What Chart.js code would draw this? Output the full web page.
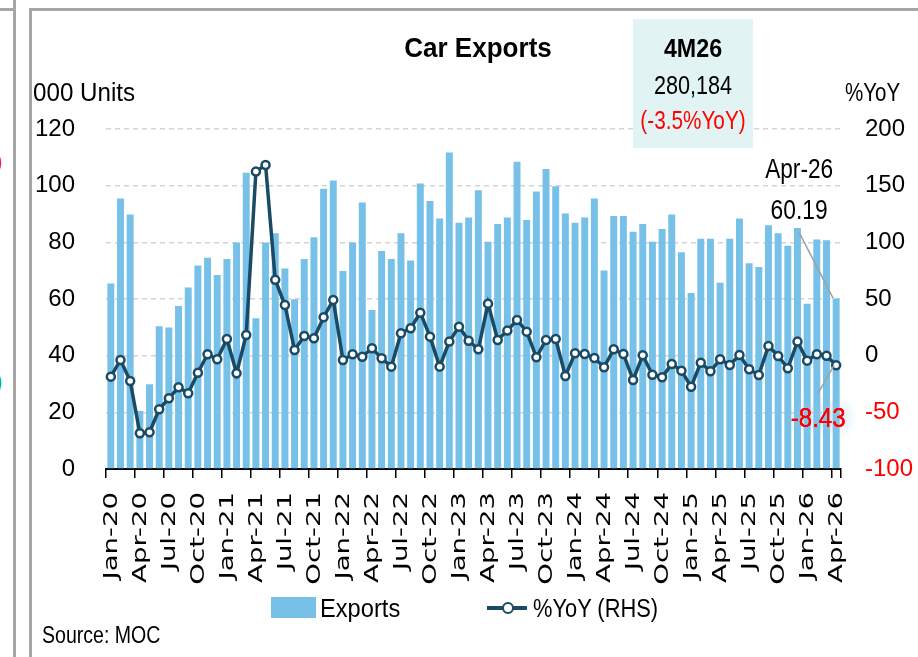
<!DOCTYPE html>
<html><head><meta charset="utf-8">
<script src="https://cdn.jsdelivr.net/npm/chart.js@4/dist/chart.umd.min.js"></script>
<style>
html,body{margin:0;padding:0;background:#fff;}
#wrap{position:relative;width:918px;height:657px;overflow:hidden;font-family:"Liberation Sans",Arial,sans-serif;color:#000;}
#chart{position:absolute;left:0;top:0;}
.t{position:absolute;white-space:nowrap;line-height:1;}
.l{transform-origin:left center;}
.c{transform-origin:center center;text-align:center;}
.ln{position:absolute;background:#A6A6A6;}
</style></head><body>
<div id="wrap">
 <div class="ln" style="left:13px;top:0;width:3px;height:657px"></div>
 <div class="ln" style="left:0;top:8px;width:16px;height:3px"></div>
 <div class="ln" style="left:29px;top:8px;width:3px;height:649px"></div>
 <div class="ln" style="left:29px;top:8px;width:889px;height:3px"></div>
 <div class="t" style="left:-6px;top:148px;font-size:26px;color:#f00">)</div>
 <div class="t" style="left:-6px;top:368px;font-size:26px;color:#00B050">)</div>
 <canvas id="chart" width="918" height="657"></canvas>
 <div style="position:absolute;left:633px;top:19px;width:120px;height:129px;background:#E2F3F3"></div>
 <div class="t c" style="left:613px;width:160px;top:36px;font-size:25px;font-weight:bold;transform:scaleX(0.93)">4M26</div>
 <div class="t c" style="left:613px;width:160px;top:73px;font-size:25px;transform:scaleX(0.865)">280,184</div>
 <div class="t c" style="left:613px;width:160px;top:108px;font-size:25px;color:#f00;transform:scaleX(0.83)">(-3.5%YoY)</div>
 <div class="t c" style="left:378px;width:200px;top:34px;font-size:28px;font-weight:bold;transform:scaleX(0.93)">Car Exports</div>
 <div class="t l" style="left:33px;top:79px;font-size:26px;transform:scaleX(0.93)">000 Units</div>
 <div class="t l" style="left:845px;top:79px;font-size:26px;transform:scaleX(0.79)">%YoY</div>
 <div style="position:absolute;left:271px;top:597px;width:45px;height:21px;background:#77C1E9"></div>
 <div class="t l" style="left:320px;top:595px;font-size:26px;transform:scaleX(0.91)">Exports</div>
 <div style="position:absolute;left:487px;top:606px;width:40px;height:3.5px;background:#1A4A64"></div>
 <div style="position:absolute;left:501.5px;top:601.5px;width:8px;height:8px;border:2.5px solid #1A4A64;border-radius:50%;background:#fff"></div>
 <div class="t l" style="left:533px;top:595px;font-size:26px;transform:scaleX(0.84)">%YoY (RHS)</div>
 <div class="t l" style="left:42px;top:624px;font-size:23px;transform:scaleX(0.85)">Source: MOC</div>
</div>
<script>
const months = [
 'Jan-20','Feb-20','Mar-20','Apr-20','May-20','Jun-20','Jul-20','Aug-20','Sep-20','Oct-20','Nov-20','Dec-20',
 'Jan-21','Feb-21','Mar-21','Apr-21','May-21','Jun-21','Jul-21','Aug-21','Sep-21','Oct-21','Nov-21','Dec-21',
 'Jan-22','Feb-22','Mar-22','Apr-22','May-22','Jun-22','Jul-22','Aug-22','Sep-22','Oct-22','Nov-22','Dec-22',
 'Jan-23','Feb-23','Mar-23','Apr-23','May-23','Jun-23','Jul-23','Aug-23','Sep-23','Oct-23','Nov-23','Dec-23',
 'Jan-24','Feb-24','Mar-24','Apr-24','May-24','Jun-24','Jul-24','Aug-24','Sep-24','Oct-24','Nov-24','Dec-24',
 'Jan-25','Feb-25','Mar-25','Apr-25','May-25','Jun-25','Jul-25','Aug-25','Sep-25','Oct-25','Nov-25','Dec-25',
 'Jan-26','Feb-26','Mar-26','Apr-26'];
const exportsK = [
 65.5, 95.5, 89.8, 20.5, 29.9, 50.4, 49.9, 57.5, 64.1, 71.8, 74.6, 68.5,
 74.1, 79.9, 104.6, 53.2, 79.9, 83.2, 70.8, 59.9, 74.1, 81.8, 98.9, 101.8,
 69.9, 79.9, 94.1, 56.1, 76.9, 74.1, 83.2, 73.6, 100.8, 94.6, 88.4, 111.7,
 86.9, 88.8, 98.4, 80.2, 86.5, 88.8, 108.4, 87.9, 97.9, 105.9, 99.8, 90.2,
 86.9, 88.8, 95.5, 70.1, 89.3, 89.3, 83.7, 86.5, 80.2, 84.7, 89.8, 76.5,
 62.1, 81.3, 81.3, 65.7, 81.3, 88.4, 72.6, 71.3, 86.0, 83.2, 78.8, 85.1,
 58.3, 81.0, 80.7, 60.19];
const yoyPct = [
 -18.5, -3.8, -22.3, -68.5, -67.6, -47.3, -37.6, -27.9, -33.2, -15.0, 1.2, -3.2,
 14.7, -15.5, 18.3, 162.4, 168.3, 66.9, 44.7, 5.0, 17.4, 15.3, 33.9, 49.2,
 -3.8, 1.2, -0.9, 6.5, -2.3, -9.7, 19.8, 24.2, 37.9, 16.8, -9.7, 12.4,
 25.6, 13.2, 5.6, 45.9, 13.9, 22.1, 31.5, 21.2, -1.4, 13.9, 14.7, -17.9,
 2.1, 1.5, -2.0, -10.2, 5.6, 1.5, -21.4, 0.3, -16.8, -19.1, -7.3, -13.2,
 -27.4, -6.2, -13.8, -3.2, -8.2, 0.6, -12.0, -17.0, 8.6, -0.3, -11.1, 12.4,
 -4.4, 1.2, 0.0, -8.43];
const leftTickStep = 20, rightTickStep = 50;

const SANS = '"Liberation Sans", Arial, sans-serif';
const BAR = '#77C1E9', LINE = '#1A4A64';

function stretchedText(ctx, txt, x, y, sx) {
 ctx.save();
 ctx.translate(x, y);
 ctx.scale(sx, 1);
 ctx.fillText(txt, 0, 0);
 ctx.restore();
}

const annot = {
 id: 'annot',
 afterDraw(chart) {
  const {ctx, scales: {x, y, y1}} = chart;
  ctx.save();
  // rotated category labels every 3 months
  ctx.font = '19px "DejaVu Sans", Verdana, sans-serif';
  ctx.fillStyle = '#000';
  ctx.textAlign = 'right';
  ctx.textBaseline = 'middle';
  months.forEach((m, i) => {
   if (i % 3) return;
   const px = x.getPixelForValue(i);
   ctx.save();
   ctx.translate(px + 1, y.bottom + 23);
   ctx.rotate(-Math.PI / 2);
   ctx.scale(1.45, 1);
   ctx.fillText(m, 0, 0);
   ctx.restore();
  });
  // last-point annotations
  const li = exportsK.length - 1;
  const bx = x.getPixelForValue(li);
  const by = y.getPixelForValue(exportsK[li]);
  const ly = y1.getPixelForValue(yoyPct[li]);
  ctx.font = '27px ' + SANS;
  ctx.textAlign = 'center';
  stretchedText(ctx, months[li], bx - 37, by - 128, 0.84);
  stretchedText(ctx, exportsK[li].toFixed(2), bx - 37, by - 87, 0.845);
  ctx.strokeStyle = '#A0A0A0';
  ctx.lineWidth = 1.5;
  ctx.beginPath();
  ctx.moveTo(bx - 37, by - 66);
  ctx.lineTo(bx - 3, by);
  ctx.stroke();
  ctx.beginPath();
  ctx.moveTo(bx - 2, ly);
  ctx.lineTo(bx - 18, ly + 28);
  ctx.stroke();
  ctx.font = '28px ' + SANS;
  ctx.fillStyle = '#FF0000';
  ctx.shadowColor = 'rgba(160,205,235,0.95)';
  ctx.shadowBlur = 14;
  stretchedText(ctx, yoyPct[li].toFixed(2), bx - 18, ly + 54, 0.86);
  stretchedText(ctx, yoyPct[li].toFixed(2), bx - 18, ly + 54, 0.86);
  ctx.shadowBlur = 0;
  ctx.shadowColor = 'transparent';
  stretchedText(ctx, yoyPct[li].toFixed(2), bx - 18, ly + 54, 0.86);
  ctx.restore();
 }
};

new Chart(document.getElementById('chart'), {
 data: {
  labels: months,
  datasets: [
   {type: 'line', label: '%YoY (RHS)', data: yoyPct, yAxisID: 'y1', order: 1,
    borderColor: LINE, borderWidth: 3.5, tension: 0,
    pointRadius: 4, pointBorderWidth: 2.5, pointBackgroundColor: '#fff', pointBorderColor: LINE},
   {type: 'bar', label: 'Exports', data: exportsK, yAxisID: 'y', order: 2,
    backgroundColor: BAR, barPercentage: 0.72, categoryPercentage: 1}
  ]
 },
 options: {
  responsive: false, animation: false, devicePixelRatio: 1,
  layout: {padding: {top: 129, left: 0, right: 0, bottom: 0}},
  plugins: {legend: {display: false}, title: {display: false}, tooltip: {enabled: false}},
  scales: {
   x: {
    offset: true,
    grid: {offset: true, drawOnChartArea: false, drawTicks: true, tickLength: 9, lineWidth: 1.5,
      color: c => (c.index === undefined || c.index % 3 === 0) ? '#000' : 'rgba(0,0,0,0)'},
    border: {display: true, color: '#000', width: 2},
    ticks: {display: false},
    afterFit(s) { s.height = 188; }
   },
   y: {
    position: 'left', min: 0, max: 120,
    ticks: {stepSize: leftTickStep, padding: 31, color: '#000', font: {family: SANS, size: 24}},
    grid: {color: '#D4D4D4', lineWidth: 1.5, drawTicks: false},
    border: {display: false, dash: [5, 4]},
    afterFit(s) { s.width = 106; }
   },
   y1: {
    position: 'right', min: -100, max: 200,
    ticks: {stepSize: rightTickStep, padding: 24, font: {family: SANS, size: 24},
      color: c => c.tick.value < 0 ? '#FF0000' : '#000'},
    grid: {drawOnChartArea: false, drawTicks: false},
    border: {display: false},
    afterFit(s) { s.width = 77; }
   }
  }
 },
 plugins: [annot]
});
</script>
</body></html>
